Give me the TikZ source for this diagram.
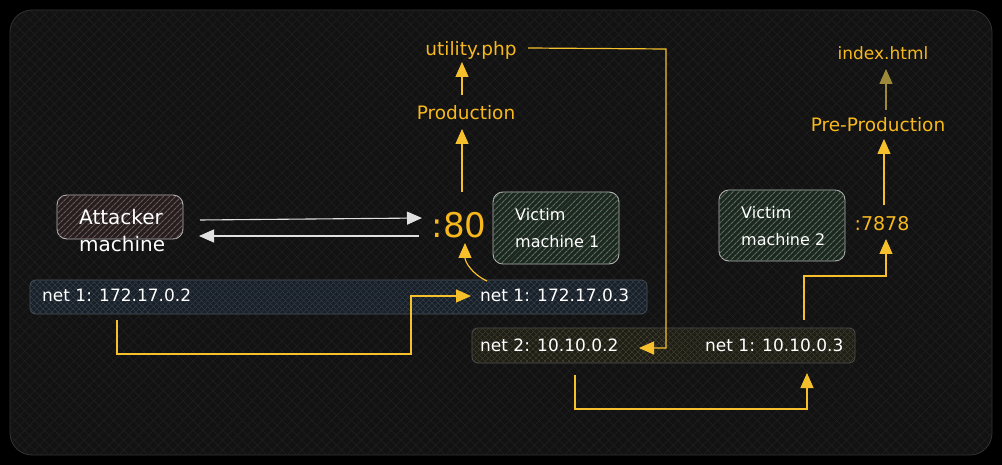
\documentclass[tikz,border=0pt]{standalone}
\usepackage{fontspec}
\setmainfont{DejaVu Sans}
\usetikzlibrary{arrows.meta,patterns.meta,calc}
\definecolor{ylw}{HTML}{F5C02C}
\definecolor{ylwtxt}{HTML}{F7B81E}
\definecolor{olivearr}{HTML}{9C8A3A}
\definecolor{bgc}{HTML}{121212}
\definecolor{bghatch}{HTML}{1F1F1F}
\definecolor{edge}{HTML}{B4B4B4}
\definecolor{netedge}{HTML}{4E5358}
\definecolor{netonefill}{HTML}{1A2028}
\definecolor{netonehatch}{HTML}{2E3A46}
\definecolor{nettwofill}{HTML}{1F1E17}
\definecolor{nettwohatch}{HTML}{3C3A28}
\definecolor{attfill}{HTML}{261E1E}
\definecolor{atthatch}{HTML}{6A5858}
\definecolor{vmfill}{HTML}{1E2620}
\definecolor{vmhatch}{HTML}{56705E}
\begin{document}
\begin{tikzpicture}[x=1pt,y=-1pt,
  wtxt/.style={text=white,inner sep=0pt,anchor=west,align=left},
  ytxt/.style={text=ylwtxt,inner sep=0pt},
  machinebox/.style={draw=edge,line width=0.9pt,rounded corners=10pt,inner sep=0pt},
  netbox/.style={draw=netedge,line width=0.8pt,rounded corners=6pt,inner sep=0pt},
  yarr/.style={draw=ylw,line width=1.2pt,-{Triangle[length=15pt,width=13pt]}},
  warr/.style={draw=white!88!black,line width=1.1pt,-{Triangle[length=15pt,width=13pt]}},
]
\useasboundingbox (0,0) rectangle (1002,465);
\fill[black] (0,0) rectangle (1002,465);
\path[fill=bgc,draw=white!20!black,line width=0.8pt,rounded corners=22pt] (10,10) rectangle (992,455);
\path[pattern={Lines[angle=45,distance=7pt,line width=0.6pt]},pattern color=bghatch,rounded corners=22pt] (11,11) rectangle (991,454);
\path[pattern={Lines[angle=-45,distance=7pt,line width=0.6pt]},pattern color=bghatch,rounded corners=22pt] (11,11) rectangle (991,454);

% net boxes
\node[netbox,minimum width=617pt,minimum height=34pt,
  preaction={fill=netonefill},
  postaction={pattern={Lines[angle=45,distance=4pt,line width=0.8pt]},pattern color=netonehatch},
  postaction={pattern={Lines[angle=-45,distance=4pt,line width=0.8pt]},pattern color=netonehatch}]
  (net1) at (338.5,297) {};
\node[netbox,minimum width=383pt,minimum height=35pt,
  preaction={fill=nettwofill},
  postaction={pattern={Lines[angle=45,distance=4pt,line width=0.8pt]},pattern color=nettwohatch},
  postaction={pattern={Lines[angle=-45,distance=4pt,line width=0.8pt]},pattern color=nettwohatch}]
  (net2) at (663.5,345.5) {};

% machine boxes
\node[machinebox,minimum width=126pt,minimum height=44pt,
  preaction={fill=attfill},
  postaction={pattern={Lines[angle=45,distance=4pt,line width=1.2pt]},pattern color=atthatch}]
  (att) at (120,217) {};
\node[machinebox,minimum width=126pt,minimum height=72pt,
  preaction={fill=vmfill},
  postaction={pattern={Lines[angle=45,distance=4pt,line width=1.2pt]},pattern color=vmhatch}]
  (vm1) at (556,228) {};
\node[machinebox,minimum width=126pt,minimum height=71pt,
  preaction={fill=vmfill},
  postaction={pattern={Lines[angle=45,distance=4pt,line width=1.2pt]},pattern color=vmhatch}]
  (vm2) at (782,225.5) {};

% machine labels
\node[wtxt,font=\fontsize{20}{27}\selectfont] (attl) at (79,231) {Attacker\\machine};
\node[wtxt,font=\fontsize{16}{27}\selectfont] (vm1l) at (515,228.5) {Victim\\machine 1};
\node[wtxt,font=\fontsize{16}{27}\selectfont] (vm2l) at (741,226.5) {Victim\\machine 2};

% net labels
\node[wtxt,font=\fontsize{17}{20}\selectfont] (n1a) at (42,295) {net 1: 172.17.0.2};
\node[wtxt,font=\fontsize{17}{20}\selectfont] (n1b) at (480,295) {net 1: 172.17.0.3};
\node[wtxt,font=\fontsize{17}{20}\selectfont] (n2a) at (480,345) {net 2: 10.10.0.2};
\node[wtxt,font=\fontsize{17}{20}\selectfont] (n2b) at (705,345) {net 1: 10.10.0.3};

% yellow labels
\node[ytxt,font=\fontsize{34}{40}\selectfont] (p80) at (459,225) {:80};
\node[ytxt,font=\fontsize{19}{22}\selectfont] (p7878) at (882,224) {:7878};
\node[ytxt,font=\fontsize{18.5}{22}\selectfont] (prod) at (466,113) {Production};
\node[ytxt,font=\fontsize{18.5}{22}\selectfont] (util) at (471,50) {utility.php};
\node[ytxt,font=\fontsize{18.5}{22}\selectfont] (preprod) at (878,125) {Pre-Production};
\node[ytxt,font=\fontsize{17}{20}\selectfont] (idx) at (883,53) {index.html};

% free ends
\coordinate (wa1) at (200,220);
\coordinate (wa2) at (422,218);
\coordinate (wb1) at (419,236);
\coordinate (wb2) at (199,236);
\coordinate (s1) at (117,320);
\coordinate (k1) at (411,354);
\coordinate (e1) at (471,296);
\coordinate (s2) at (487,281);
\coordinate (e2) at (465,243);
\coordinate (s3) at (462,192);
\coordinate (e3) at (462,129);
\coordinate (s4) at (462,95);
\coordinate (e4) at (462,62);
\coordinate (s5) at (528,48);
\coordinate (k5) at (666,49);
\coordinate (e5) at (639,348);
\coordinate (s6) at (575,375);
\coordinate (k6) at (807,409);
\coordinate (e6) at (807,373);
\coordinate (s7) at (804,320);
\coordinate (k7) at (886,276);
\coordinate (e7) at (886,239);
\coordinate (s8) at (884,205);
\coordinate (e8) at (884,139);
\coordinate (s9) at (886,110);
\coordinate (e9) at (886,69);

% white arrows
\draw[warr] (wa1) -- (wa2);
\draw[warr] (wb1) -- (wb2);

% yellow connectors
\draw[yarr] (s1) |- (k1) |- (e1);
\draw[yarr] (s2) .. controls (472,274) and (465,262) .. (e2);
\draw[yarr] (s3) -- (e3);
\draw[yarr] (s4) -- (e4);
\draw[yarr] (s5) -- (k5) |- (e5);
\draw[yarr] (s6) |- (k6) -- (e6);
\draw[yarr] (s7) |- (k7) -- (e7);
\draw[yarr] (s8) -- (e8);
\draw[yarr,draw=olivearr,-{Triangle[length=15pt,width=13pt,fill=olivearr]}] (s9) -- (e9);
\end{tikzpicture}
\end{document}
